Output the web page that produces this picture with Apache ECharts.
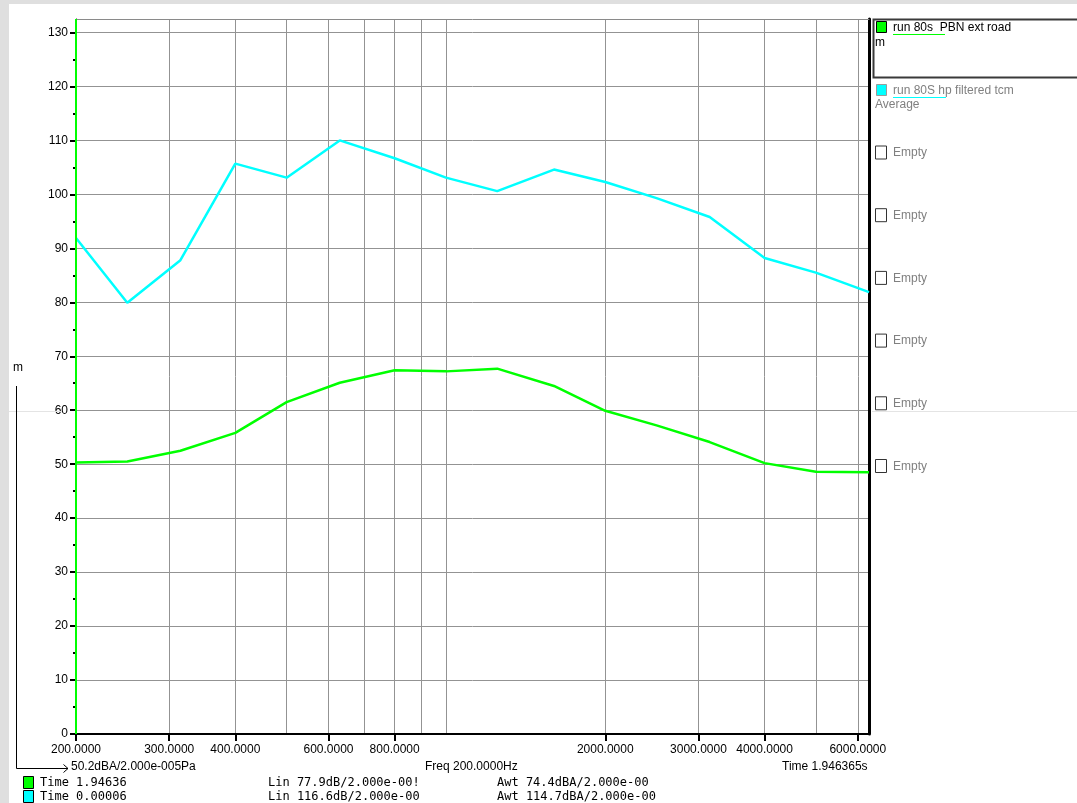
<!DOCTYPE html>
<html>
<head>
<meta charset="utf-8">
<script src="https://cdn.jsdelivr.net/npm/echarts@6/dist/echarts.min.js"></script>
<style>
html,body{margin:0;padding:0;background:#dfdfdf;}
#chart{width:1077px;height:803px;}
</style>
</head>
<body>
<div id="chart"></div>
<script>
// ---- data ----
const freqs = [200, 250, 315, 400, 500, 630, 800, 1000, 1250, 1600, 2000, 2500, 3150, 4000, 5000, 6300];
const hpFiltered = [91.9, 79.9, 87.8, 105.7, 103.1, 110.0, 106.7, 103.1, 100.6, 104.6, 102.3, 99.3, 95.8, 88.2, 85.5, 81.9];
const pbnExtRoad = [50.3, 50.5, 52.5, 55.8, 61.5, 65.1, 67.4, 67.2, 67.7, 64.5, 59.9, 57.2, 54.1, 50.2, 48.6, 48.5];
const xLabelFreqs = [200, 300, 400, 600, 800, 2000, 3000, 4000, 6000];
const xGridFreqs = [300, 400, 500, 600, 700, 800, 900, 1000, 2000, 3000, 4000, 5000, 6000];
const yMajorTicks = [0, 10, 20, 30, 40, 50, 60, 70, 80, 90, 100, 110, 120, 130];
const yMinorTicks = [5, 15, 25, 35, 45, 55, 65, 75, 85, 95, 105, 115, 125];
const yRange = [0, 132.5];
const cursorFreq = 200;
const seriesNames = ['run 80s  PBN ext road', 'run 80S hp filtered tcm'];
const emptySlots = ['Empty', 'Empty', 'Empty', 'Empty', 'Empty', 'Empty'];
const statusRows = [
  ['Time 1.94636', 'Lin 77.9dB/2.000e-00!', 'Awt 74.4dBA/2.000e-00'],
  ['Time 0.00006', 'Lin 116.6dB/2.000e-00', 'Awt 114.7dBA/2.000e-00']
];
const refText = '50.2dBA/2.000e-005Pa';
const freqText = 'Freq 200.0000Hz';
const timeText = 'Time 1.946365s';

const L = v => Math.log10(v);
const xMin = L(200), xMax = L(6300);
const SANS = '"Liberation Sans", Arial, sans-serif';
const MONO = '"DejaVu Sans Mono", monospace';
const GRID = '#939393';

const chart = echarts.init(document.getElementById('chart'), null, {renderer: 'canvas'});

function txt(x, y, s, opts) {
  opts = opts || {};
  return {type: 'text', x: x, y: y, z: 100, silent: true,
    style: {text: s, fill: opts.fill || '#000', font: (opts.size || 12) + 'px ' + (opts.family || SANS),
      textAlign: opts.align || 'left', verticalAlign: 'middle'}};
}
function line(x1, y1, x2, y2, color, w) {
  return {type: 'line', z: 100, silent: true, shape: {x1: x1, y1: y1, x2: x2, y2: y2},
    style: {stroke: color, lineWidth: w || 1}};
}
function rect(x, y, w, h, fill, stroke, lw, z) {
  return {type: 'rect', z: z === undefined ? 100 : z, silent: true, shape: {x: x, y: y, width: w, height: h},
    style: {fill: fill, stroke: stroke || null, lineWidth: lw || 1}};
}

const graphics = [];
graphics.push(rect(9, 4, 1068, 799, '#ffffff', null, 0, -100));
// faint seam lines
graphics.push(line(9, 411.5, 62, 411.5, '#e4e4e4', 1));
graphics.push(line(872, 411.5, 1077, 411.5, '#e4e4e4', 1));
// legend panel
graphics.push(rect(873.5, 19.5, 210, 58, null, '#3a3a3a', 2));
graphics.push(rect(876.5, 21.5, 10, 11, '#00ff00', '#000', 1));
graphics.push(txt(893, 27.5, seriesNames[0]));
graphics.push(line(893, 34.5, 945, 34.5, '#00ff00', 1));
graphics.push(txt(875, 43, 'm'));
graphics.push(rect(876.5, 84.5, 10, 11, '#00ffff', '#9a9a9a', 1));
graphics.push(txt(893, 90.5, seriesNames[1], {fill: '#808080'}));
graphics.push(line(893, 97.5, 946, 97.5, '#00ffff', 1));
graphics.push(txt(875, 105, 'Average', {fill: '#808080'}));
emptySlots.forEach((s, i) => {
  const c = 152.5 + i * 62.7;
  graphics.push(rect(875.5, c - 6.5, 11, 13, '#fff', '#333', 1));
  graphics.push(txt(893, c + 0.5, s, {fill: '#808080'}));
});
// left axis name and reference arrow
graphics.push(txt(13, 368, 'm'));
graphics.push({type: 'polyline', z: 100, silent: true, shape: {points: [[16.5, 386], [16.5, 768.5], [68, 768.5]]},
  style: {stroke: '#000', lineWidth: 1, fill: null}});
graphics.push({type: 'polyline', z: 100, silent: true, shape: {points: [[63.5, 764.5], [68, 768.5], [63.5, 772.5]]},
  style: {stroke: '#000', lineWidth: 1, fill: null}});
graphics.push(txt(71, 767, refText));
graphics.push(txt(425, 767, freqText));
graphics.push(txt(782, 767, timeText));
// status rows
const rowColors = ['#00ff00', '#00ffff'];
statusRows.forEach((r, i) => {
  const y = 783 + i * 14;
  graphics.push(rect(23.5, y - 6.5, 10, 12, rowColors[i], '#000', 1));
  graphics.push(txt(40, y, r[0], {family: MONO}));
  graphics.push(txt(268, y, r[1], {family: MONO}));
  graphics.push(txt(497, y, r[2], {family: MONO}));
});

const option = {
  animation: false,
  backgroundColor: 'transparent',
  grid: {left: 76, right: 208, top: 19, bottom: 69, containLabel: false, show: false},
  xAxis: [
    {type: 'value', position: 'bottom', min: xMin, max: xMax,
      axisLine: {show: true, onZero: false, lineStyle: {color: '#000', width: 2}},
      axisTick: {show: true, customValues: xLabelFreqs.map(L), length: 7, lineStyle: {color: '#000', width: 2}},
      axisLabel: {show: true, customValues: xLabelFreqs.map(L), margin: 10, color: '#000', fontSize: 12, fontFamily: SANS,
        formatter: v => Math.round(Math.pow(10, v)).toFixed(4)},
      splitLine: {show: false}},
    {type: 'value', position: 'bottom', min: xMin, max: xMax,
      axisLine: {show: false}, axisLabel: {show: false},
      axisTick: {show: false, customValues: xGridFreqs.map(L)},
      splitLine: {show: true, lineStyle: {color: GRID, width: 1}}},
    {type: 'value', position: 'top', min: xMin, max: xMax,
      axisLine: {show: true, onZero: false, lineStyle: {color: '#8a8a8a', width: 1}},
      axisTick: {show: false}, axisLabel: {show: false}, splitLine: {show: false}}
  ],
  yAxis: [
    {type: 'value', position: 'left', min: yRange[0], max: yRange[1],
      axisLine: {show: true, onZero: false, lineStyle: {color: '#000', width: 1}},
      axisTick: {show: true, customValues: yMajorTicks, length: 6, lineStyle: {color: '#000', width: 2}},
      axisLabel: {show: true, customValues: yMajorTicks, margin: 8, color: '#000', fontSize: 12, fontFamily: SANS},
      splitLine: {show: true, lineStyle: {color: GRID, width: 1}}},
    {type: 'value', position: 'left', min: yRange[0], max: yRange[1],
      axisLine: {show: false},
      axisTick: {show: true, customValues: yMinorTicks, length: 3, lineStyle: {color: '#000', width: 2}},
      axisLabel: {show: false}, splitLine: {show: false}},
    {type: 'value', position: 'right', min: yRange[0], max: yRange[1],
      axisLine: {show: true, onZero: false, lineStyle: {color: '#000', width: 3}},
      axisTick: {show: false}, axisLabel: {show: false}, splitLine: {show: false}}
  ],
  series: [
    {name: seriesNames[1], type: 'line', xAxisIndex: 0, yAxisIndex: 0, symbol: 'none', z: 5,
      lineStyle: {color: '#00ffff', width: 2.5}, itemStyle: {color: '#00ffff'},
      data: freqs.map((f, i) => [L(f), hpFiltered[i]])},
    {name: seriesNames[0], type: 'line', xAxisIndex: 0, yAxisIndex: 0, symbol: 'none', z: 6,
      lineStyle: {color: '#00ff00', width: 2.5}, itemStyle: {color: '#00ff00'},
      data: freqs.map((f, i) => [L(f), pbnExtRoad[i]])},
    {name: 'cursor', type: 'line', xAxisIndex: 0, yAxisIndex: 0, symbol: 'none', z: 10, clip: false,
      lineStyle: {color: '#00ff00', width: 2}, itemStyle: {color: '#00ff00'},
      data: [[L(cursorFreq), yRange[0]], [L(cursorFreq), yRange[1]]]}
  ],
  graphic: graphics
};
chart.setOption(option);
</script>
</body>
</html>
